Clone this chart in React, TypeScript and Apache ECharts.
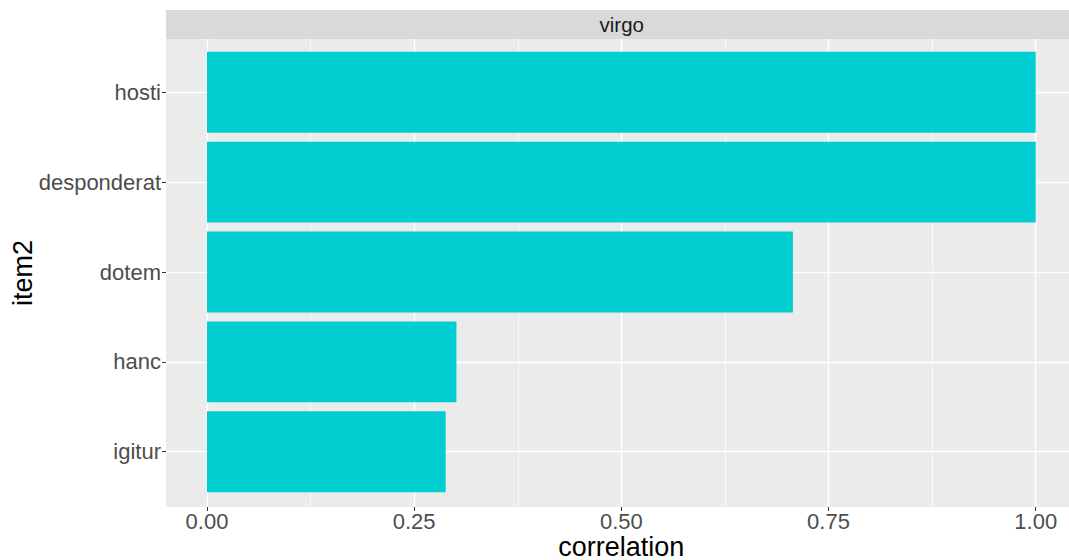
import React, { useEffect, useRef } from "react";
import * as echarts from "echarts";

const categories = ["hosti", "desponderat", "dotem", "hanc", "igitur"];
const correlation = [1.0, 1.0, 0.707, 0.301, 0.288];
const xTicks = [0, 0.25, 0.5, 0.75, 1.0];
const facetLabel = "virgo";
const xTitle = "correlation";
const yTitle = "item2";

const FONT = "'Liberation Sans', Arial, sans-serif";

export default function App() {
  const ref = useRef<HTMLDivElement>(null);
  useEffect(() => {
    if (!ref.current) return;
    const chart = echarts.init(ref.current, undefined, { renderer: "svg" });
    const W = 1069;
    const panelLeft = 166;
    const panelTop = 39;
    const panelH = 468;
    const x0 = 207;
    const unit = 828.7;
    const panelW = W - panelLeft;
    const xMin = (panelLeft - x0) / unit;
    const xMax = (W - x0) / unit;
    const band = 89.85;
    const catTop = 92.3;
    const stripCenter = panelLeft + (unit * 1.1) / 2;

    chart.setOption({
      animation: false,
      backgroundColor: "#FFFFFF",
      textStyle: { fontFamily: FONT },
      graphic: [
        {
          type: "rect",
          z: -10,
          silent: true,
          shape: { x: panelLeft, y: panelTop, width: panelW, height: panelH },
          style: { fill: "#EBEBEB" },
        },
        {
          type: "rect",
          z: -10,
          silent: true,
          shape: { x: panelLeft, y: 10, width: panelW, height: 29 },
          style: { fill: "#D9D9D9" },
        },
        {
          type: "text",
          x: stripCenter,
          y: 24.5,
          style: {
            text: facetLabel,
            fill: "#1A1A1A",
            font: `20.5px ${FONT}`,
            align: "center",
            verticalAlign: "middle",
          },
        },
        {
          type: "text",
          x: x0 + unit / 2,
          y: 546.5,
          style: {
            text: xTitle,
            fill: "#000000",
            font: `27px ${FONT}`,
            align: "center",
            verticalAlign: "middle",
          },
        },
        {
          type: "text",
          x: 22.5,
          y: 273,
          rotation: Math.PI / 2,
          style: {
            text: yTitle,
            fill: "#000000",
            font: `27px ${FONT}`,
            align: "center",
            verticalAlign: "middle",
          },
        },
      ],
      grid: [
        { left: x0, top: panelTop, width: unit, height: panelH, containLabel: false },
        { left: panelLeft, top: catTop, right: 0, height: band * 4, containLabel: false },
        { left: panelLeft, top: catTop - band / 2, right: 0, height: band * 5, containLabel: false },
      ],
      xAxis: [
        {
          gridIndex: 0,
          type: "value",
          min: 0,
          max: 1,
          interval: 0.25,
          axisLine: { show: false, onZero: false },
          axisTick: { show: true, length: 4, lineStyle: { color: "#333333", width: 1 } },
          axisLabel: {
            show: true,
            margin: 3,
            color: "#4D4D4D",
            fontSize: 22,
            fontFamily: FONT,
            formatter: (v: number) => v.toFixed(2),
            customValues: xTicks,
          },
          splitLine: { show: true, lineStyle: { color: "#FFFFFF", width: 1.4 } },
          minorTick: { show: false, splitNumber: 2 },
          minorSplitLine: { show: true, lineStyle: { color: "#FFFFFF", width: 0.7 } },
        },
        { gridIndex: 1, type: "value", min: xMin, max: xMax, show: false },
        { gridIndex: 2, type: "value", min: xMin, max: xMax, show: false },
      ],
      yAxis: [
        { gridIndex: 0, type: "value", show: false },
        {
          gridIndex: 1,
          type: "category",
          data: categories,
          inverse: true,
          boundaryGap: false,
          axisLine: { show: false, onZero: false },
          axisTick: { show: true, length: 4, lineStyle: { color: "#333333", width: 1 } },
          axisLabel: {
            show: true,
            margin: 5,
            color: "#4D4D4D",
            fontSize: 22,
            fontFamily: FONT,
            interval: 0,
          },
          splitLine: { show: true, interval: 0, lineStyle: { color: "#FFFFFF", width: 1.4 } },
        },
        { gridIndex: 2, type: "category", data: categories, inverse: true, show: false },
      ],
      series: [
        {
          type: "bar",
          xAxisIndex: 2,
          yAxisIndex: 2,
          data: correlation,
          barCategoryGap: "10%",
          itemStyle: { color: "#00CED1" },
          silent: true,
        },
      ],
    });
    return () => chart.dispose();
  }, []);
  return (
    <div
      ref={ref}
      style={{ position: "fixed", left: 0, top: 0, width: 1069, height: 560 }}
    />
  );
}
